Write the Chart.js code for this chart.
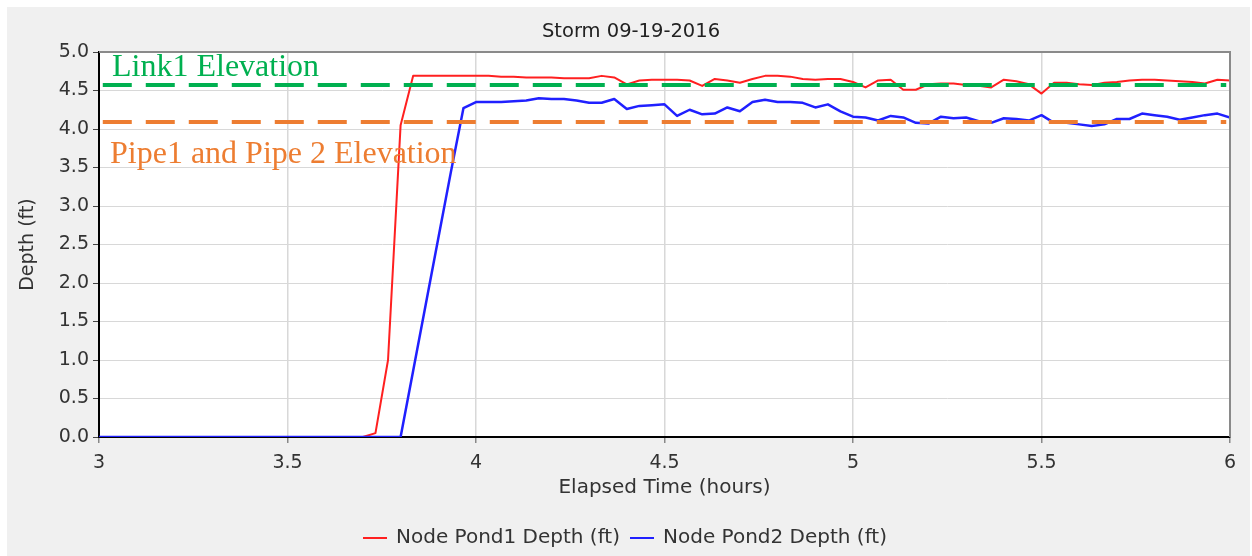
<!DOCTYPE html>
<html>
<head>
<meta charset="utf-8">
<script src="https://cdn.jsdelivr.net/npm/chart.js@4.4.1/dist/chart.umd.min.js"></script>
<style>
  html, body { margin: 0; padding: 0; background: #ffffff; overflow: hidden; }
  canvas { display: block; }
</style>
</head>
<body>
<canvas id="c" width="1252" height="556"></canvas>
<script>
// ---- Data ----
const chartTitle = "Storm 09-19-2016";
const xAxisTitle = "Elapsed Time (hours)";
const yAxisTitle = "Depth (ft)";
const seriesNames = ["Node Pond1 Depth (ft)", "Node Pond2 Depth (ft)"];

// elapsed time of each reading, in minutes (2-minute steps from 3 h to 6 h)
const elapsedMinutes = [180,182,184,186,188,190,192,194,196,198,
  200,202,204,206,208,210,212,214,216,218,
  220,222,224,226,228,230,232,234,236,238,
  240,242,244,246,248,250,252,254,256,258,
  260,262,264,266,268,270,272,274,276,278,
  280,282,284,286,288,290,292,294,296,298,
  300,302,304,306,308,310,312,314,316,318,
  320,322,324,326,328,330,332,334,336,338,
  340,342,344,346,348,350,352,354,356,358,360];

const pond1Depth = [0,0,0,0,0,0,0,0,0,0,
  0,0,0,0,0,0,0,0,0,0,
  0,0,0.05,1.00,4.05,4.69,4.69,4.69,4.69,4.69,
  4.69,4.69,4.68,4.68,4.67,4.67,4.67,4.66,4.66,4.66,
  4.69,4.67,4.58,4.63,4.64,4.64,4.64,4.63,4.56,4.65,
  4.63,4.60,4.65,4.69,4.69,4.68,4.65,4.64,4.65,4.65,
  4.61,4.54,4.63,4.64,4.51,4.51,4.58,4.59,4.59,4.57,
  4.56,4.54,4.64,4.62,4.58,4.46,4.60,4.60,4.58,4.57,
  4.60,4.61,4.63,4.64,4.64,4.63,4.62,4.61,4.59,4.64,4.63];

const pond2Depth = [0,0,0,0,0,0,0,0,0,0,
  0,0,0,0,0,0,0,0,0,0,
  0,0,0,0,0,0.86,1.72,2.58,3.44,4.27,
  4.35,4.35,4.35,4.36,4.37,4.40,4.39,4.39,4.37,4.34,
  4.34,4.39,4.26,4.30,4.31,4.32,4.17,4.25,4.19,4.20,
  4.28,4.23,4.35,4.38,4.35,4.35,4.34,4.28,4.32,4.23,
  4.16,4.15,4.11,4.17,4.15,4.08,4.07,4.16,4.14,4.15,
  4.10,4.08,4.14,4.13,4.11,4.18,4.08,4.08,4.06,4.04,
  4.06,4.13,4.13,4.20,4.18,4.16,4.12,4.15,4.18,4.20,4.15];

const elevationLabels = ["Link1 Elevation", "Pipe1 and Pipe 2 Elevation"];
const elevationValues = [4.57, 4.09];
const elevationSpan = [3.01, 5.99];

const xTickValues = [3, 3.5, 4, 4.5, 5, 5.5, 6];
const yTickValues = [0, 0.5, 1, 1.5, 2, 2.5, 3, 3.5, 4, 4.5, 5];

// ---- Styles ----
const seriesColors = ["#ff2020", "#2020ff"];
const elevationColors = ["#00b050", "#ed7d31"];
const FONT = "'DejaVu Sans', sans-serif";

Chart.defaults.font.family = FONT;
Chart.defaults.font.size = 19;
Chart.defaults.color = "#333333";

function toPoints(values) {
  return values.map((v, i) => ({ x: elapsedMinutes[i] / 60, y: v }));
}

const backgroundPlugin = {
  id: "bg",
  beforeDraw(chart) {
    const ctx = chart.ctx;
    const a = chart.chartArea;
    ctx.save();
    ctx.fillStyle = "#ffffff";
    ctx.fillRect(0, 0, chart.width, chart.height);
    ctx.fillStyle = "#f0f0f0";
    ctx.fillRect(7, 7, chart.width - 9, chart.height - 7);
    ctx.fillStyle = "#ffffff";
    ctx.fillRect(a.left, a.top, a.right - a.left, a.bottom - a.top);
    ctx.restore();
  }
};

const overlayPlugin = {
  id: "overlay",
  afterDraw(chart) {
    const ctx = chart.ctx;
    const a = chart.chartArea;
    const xs = chart.scales.x, ys = chart.scales.y;
    ctx.save();
    // top and right frame
    ctx.strokeStyle = "#8a8a8a";
    ctx.lineWidth = 2;
    ctx.beginPath();
    ctx.moveTo(a.left, a.top);
    ctx.lineTo(a.right, a.top);
    ctx.lineTo(a.right, a.bottom);
    ctx.stroke();

    // chart title
    ctx.font = "19.5px " + FONT;
    ctx.textAlign = "center";
    ctx.textBaseline = "middle";
    ctx.fillStyle = "#222222";
    ctx.fillText(chartTitle, 631, 32);

    // elevation annotations
    ctx.font = "32px 'Liberation Serif', 'Times New Roman', serif";
    ctx.textBaseline = "alphabetic";
    ctx.textAlign = "left";
    ctx.fillStyle = elevationColors[0];
    ctx.fillText(elevationLabels[0], xs.getPixelForValue(3) + 13, ys.getPixelForValue(elevationValues[0]) - 9);
    ctx.fillStyle = elevationColors[1];
    ctx.fillText(elevationLabels[1], xs.getPixelForValue(3) + 11, ys.getPixelForValue(elevationValues[1]) + 41);

    // legend
    ctx.font = "20px " + FONT;
    ctx.textBaseline = "middle";
    const sample = 24, gapTxt = 9, gapItem = 10;
    const w0 = ctx.measureText(seriesNames[0]).width;
    const w1 = ctx.measureText(seriesNames[1]).width;
    const total = sample + gapTxt + w0 + gapItem + sample + gapTxt + w1;
    let x = 625 - total / 2;
    const y = 538;
    [0, 1].forEach(i => {
      ctx.strokeStyle = seriesColors[i];
      ctx.lineWidth = 2;
      ctx.beginPath();
      ctx.moveTo(x, y);
      ctx.lineTo(x + sample, y);
      ctx.stroke();
      x += sample + gapTxt;
      ctx.fillStyle = "#333333";
      ctx.fillText(seriesNames[i], x, y);
      x += (i === 0 ? w0 : w1) + gapItem;
    });
    ctx.restore();
  }
};

const datasets = [
  {
    label: elevationLabels[0],
    data: elevationSpan.map(x => ({ x, y: elevationValues[0] })),
    borderColor: elevationColors[0],
    borderWidth: 4,
    borderDash: [29, 14],
    borderCapStyle: "butt",
    pointRadius: 0,
    order: 0
  },
  {
    label: elevationLabels[1],
    data: elevationSpan.map(x => ({ x, y: elevationValues[1] })),
    borderColor: elevationColors[1],
    borderWidth: 4,
    borderDash: [29, 14],
    borderCapStyle: "butt",
    pointRadius: 0,
    order: 0
  },
  {
    label: seriesNames[1],
    data: toPoints(pond2Depth),
    borderColor: seriesColors[1],
    borderWidth: 2.5,
    pointRadius: 0,
    tension: 0,
    borderJoinStyle: "round",
    order: 1
  },
  {
    label: seriesNames[0],
    data: toPoints(pond1Depth),
    borderColor: seriesColors[0],
    borderWidth: 2,
    pointRadius: 0,
    tension: 0,
    borderJoinStyle: "round",
    order: 2
  }
];

new Chart(document.getElementById("c"), {
  type: "line",
  data: { datasets },
  plugins: [backgroundPlugin, overlayPlugin],
  options: {
    responsive: false,
    animation: false,
    devicePixelRatio: 1,
    layout: { padding: { left: 0, right: 22, top: 52, bottom: 0 } },
    plugins: {
      legend: { display: false },
      tooltip: { enabled: false },
      title: { display: false }
    },
    scales: {
      x: {
        type: "linear",
        min: 3,
        max: 6,
        afterBuildTicks(scale) { scale.ticks = xTickValues.map(v => ({ value: v })); },
        afterFit(scale) { scale.height = 119; },
        ticks: {
          padding: 9,
          color: "#333333",
          maxRotation: 0,
          callback: v => String(v)
        },
        grid: { color: "#d8d8d8", lineWidth: 1.5, tickLength: 6, tickColor: "#888888" },
        border: { color: "#000000", width: 2 },
        title: {
          display: true,
          text: xAxisTitle,
          color: "#333333",
          font: { size: 20 },
          padding: { top: 0, bottom: 56 }
        }
      },
      y: {
        type: "linear",
        min: 0,
        max: 5,
        afterBuildTicks(scale) { scale.ticks = yTickValues.map(v => ({ value: v })); },
        afterFit(scale) { scale.width = 99; },
        ticks: {
          padding: 4,
          color: "#333333",
          callback: v => Number(v).toFixed(1)
        },
        grid: { color: "#d8d8d8", lineWidth: 1, tickLength: 6, tickColor: "#444444" },
        border: { color: "#000000", width: 2 },
        title: {
          display: true,
          text: yAxisTitle,
          color: "#333333",
          padding: { top: 17, bottom: 0 }
        }
      }
    }
  }
});
</script>
</body>
</html>
